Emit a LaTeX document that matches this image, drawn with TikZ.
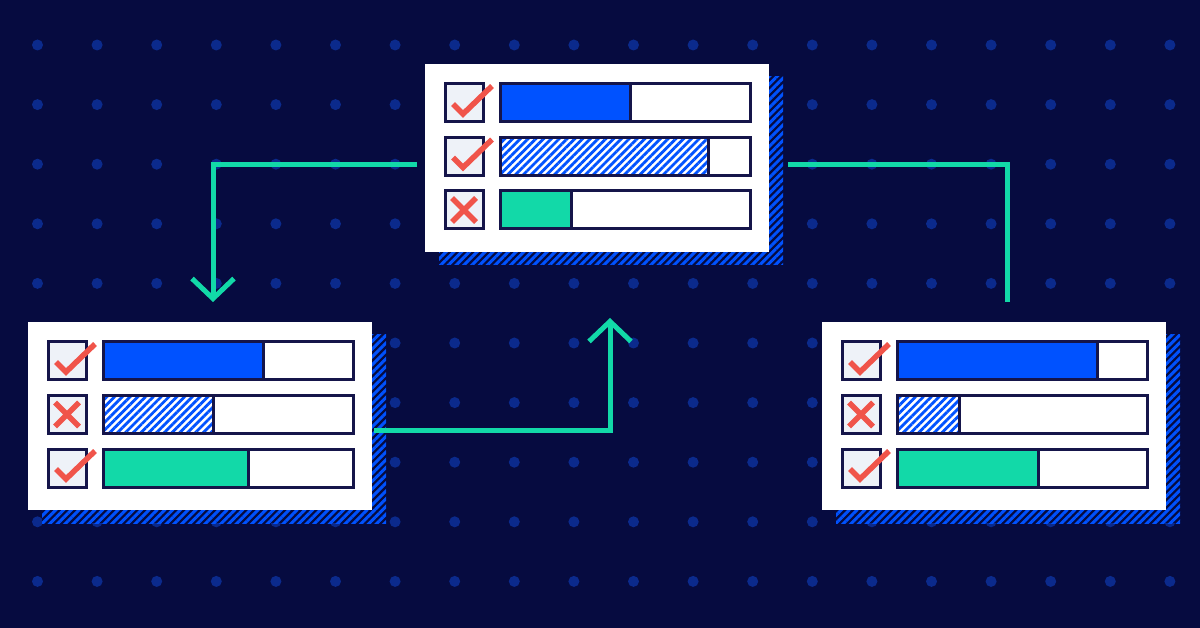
\documentclass[tikz,border=0pt]{standalone}
\usetikzlibrary{calc,arrows.meta,patterns.meta}

\definecolor{nightbg}{HTML}{060B40}
\definecolor{dotblue}{HTML}{0B2A8C}
\definecolor{linkgreen}{HTML}{12D9A8}
\definecolor{barblue}{HTML}{0052FF}
\definecolor{markred}{HTML}{F0544A}
\definecolor{edgenavy}{HTML}{15154A}
\definecolor{boxgray}{HTML}{EEF2F8}

\tikzset{
    panel/.style={fill=white, minimum width=344pt, minimum height=188pt, inner sep=0pt, outer sep=0pt},
    hatchshadow/.style={fill=nightbg, postaction={pattern={Lines[angle=45,distance=5.5pt,line width=3pt]}, pattern color=barblue}},
    checkbox/.style={draw=edgenavy, line width=3pt, fill=boxgray},
    barframe/.style={draw=edgenavy, line width=3pt, fill=white},
    solidfill/.style={draw=edgenavy, line width=3pt, fill=barblue},
    greenfill/.style={draw=edgenavy, line width=3pt, fill=linkgreen},
    hatchfill/.style={preaction={fill=white}, preaction={pattern={Lines[angle=45,distance=5.5pt,line width=2.8pt]}, pattern color=barblue}, draw=edgenavy, line width=3pt},
    link/.style={draw=linkgreen, line width=5pt},
    okmark/.pic={\draw[markred, line width=5.5pt] (8,20) -- (18,30) -- (47,2);},
    nomark/.pic={\draw[markred, line width=5.5pt] (7,7) -- (31,31) (31,7) -- (7,31);}
}

\begin{document}
\begin{tikzpicture}[x=1pt, y=-1pt]
    \useasboundingbox (0,0) rectangle (1200,628);
    \fill[nightbg] (0,0) rectangle (1200,628);
    % dot grid
    \foreach \i in {0,...,19}
        \foreach \j in {0,...,9}
            \fill[dotblue] (37.5+59.6*\i, 45+59.6*\j) circle (5.5);

    % panels with hatched shadows
    \foreach \p/\x/\y in {top/597/158, left/200/416, right/994/416} {
        \path[hatchshadow] (\x-158,\y-81) rectangle (\x+186,\y+107);
        \node[panel] (\p) at (\x,\y) {};
    }

    % rows: mark + progress bar
    \foreach \p/\fa/\fb/\fc/\ma/\mb/\mc in {top/130/208/71/okmark/okmark/nomark,
                                          left/160/110/145/okmark/nomark/okmark,
                                          right/200/62/141/okmark/nomark/okmark} {
        \foreach \r/\f/\m/\s in {0/\fa/\ma/solidfill, 1/\fb/\mb/hatchfill, 2/\fc/\mc/greenfill} {
            \path[checkbox] ($(\p.north west)+(20,20+53.5*\r)$) rectangle +(38,38);
            \pic at ($(\p.north west)+(20,20+53.5*\r)$) {\m};
            \path[barframe] ($(\p.north west)+(75,20+53.5*\r)$) rectangle +(250,38);
            \path[\s] ($(\p.north west)+(75,20+53.5*\r)$) rectangle +(\f,38);
        }
    }

    % connectors
    \draw[link, -{Straight Barb[length=20pt,width=42pt]}] ($(top.west)+(-8,7)$) -| ($(left.north)+(13,-20)$);
    \draw[link, -{Straight Barb[length=20pt,width=42pt]}] ($(left.east)+(2,14)$) -| ($(top.south)+(13,66)$);
    \draw[link] ($(top.east)+(19,7)$) -| ($(right.north)+(13,-20)$);
\end{tikzpicture}
\end{document}
